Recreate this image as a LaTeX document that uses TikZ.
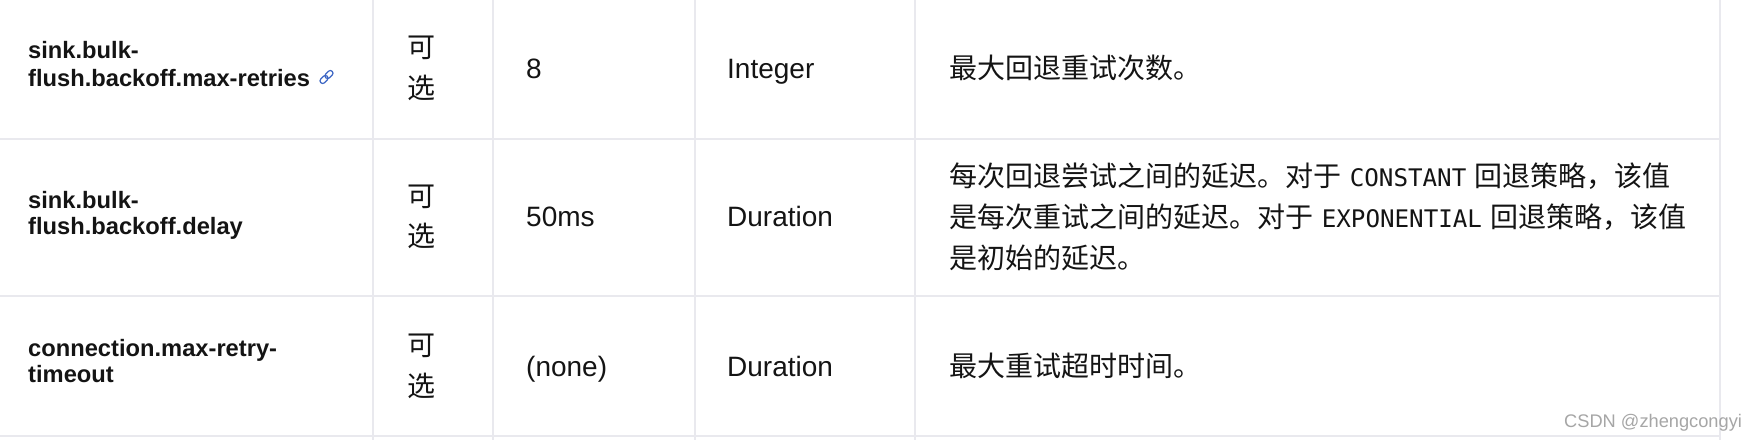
\documentclass[tikz,border=0pt]{standalone}
\usepackage{fontspec}
\setmainfont{Liberation Sans}
\newfontfamily\cjk{Noto Sans CJK SC}
\newfontfamily\monof{DejaVu Sans Mono}
\newfontfamily\wmf{Liberation Sans}
\definecolor{rule}{HTML}{E9E9EE}
\definecolor{ink}{HTML}{141414}
\definecolor{linkblue}{HTML}{3D66C4}
\definecolor{wm}{HTML}{A6A6A6}
\newcommand{\mc}[1]{\hspace{8.6pt}{\monof\fontsize{24.2}{24.2}\selectfont #1}\hspace{8.6pt}}
\tikzset{
  gridline/.style={draw=rule,line width=2pt},
  keytext/.style={anchor=base west,inner sep=0pt,text=ink,font=\fontsize{23.7}{23.7}\selectfont\bfseries},
  celltext/.style={anchor=base west,inner sep=0pt,text=ink,font=\fontsize{28}{28}\selectfont},
  cjktext/.style={anchor=base west,inner sep=0pt,text=ink,font=\cjk\fontsize{28}{28}\selectfont},
  optmark/.style={anchor=center,inner sep=0pt,text=ink,font=\cjk\fontsize{28}{28}\selectfont},
  wmtext/.style={anchor=base west,inner sep=0pt,text=wm,font=\wmf\fontsize{18.25}{18.25}\selectfont},
  linkpart/.style={draw=linkblue,line width=1.2pt,rounded corners=2.4pt}
}
\begin{document}
\begin{tikzpicture}[x=1pt,y=-1pt]
\useasboundingbox (0,0) rectangle (1756,440);
\fill[white] (0,0) rectangle (1756,440);
% grid
\foreach \x in {373,493,694.5,915,1720}
  \draw[gridline] (\x,0) -- (\x,440);
\foreach \y in {139,295.5,436}
  \draw[gridline] (0,\y) -- (1720,\y);
% row 1
\node[keytext] (k1a) at (28,58) {sink.bulk-};
\node[keytext] (k1b) at (28,86) {flush.backoff.max-retries};
\begin{scope}[shift={(326.5,77)},rotate=45]
  \draw[linkpart] (-8,-2.6) rectangle (1,2.6);
  \draw[linkpart] (-1,-2.6) rectangle (8,2.6);
\end{scope}
\node[optmark] (o1a) at (421,48) {可};
\node[optmark] (o1b) at (421,88) {选};
\node[celltext] (d1) at (526,78) {8};
\node[celltext] (t1) at (727,78) {Integer};
\node[cjktext] (c1) at (949,78) {最大回退重试次数。};
% row 2
\node[keytext] (k2a) at (28,208) {sink.bulk-};
\node[keytext] (k2b) at (28,234) {flush.backoff.delay};
\node[optmark] (o2a) at (421,197) {可};
\node[optmark] (o2b) at (421,236) {选};
\node[celltext] (d2) at (526,226) {50ms};
\node[celltext] (t2) at (727,226) {Duration};
\node[cjktext] (c2a) at (949,186) {每次回退尝试之间的延迟。对于\mc{CONSTANT}回退策略，该值};
\node[cjktext] (c2b) at (949,227) {是每次重试之间的延迟。对于\mc{EXPONENTIAL}回退策略，该值};
\node[cjktext] (c2c) at (949,268) {是初始的延迟。};
% row 3
\node[keytext] (k3a) at (28,356) {connection.max-retry-};
\node[keytext] (k3b) at (28,382) {timeout};
\node[optmark] (o3a) at (421,346) {可};
\node[optmark] (o3b) at (421,386) {选};
\node[celltext] (d3) at (526,376) {(none)};
\node[celltext] (t3) at (727,376) {Duration};
\node[cjktext] (c3) at (949,376) {最大重试超时时间。};
% watermark
\node[wmtext] (wm) at (1564,427) {CSDN @zhengcongyi};
\end{tikzpicture}
\end{document}
